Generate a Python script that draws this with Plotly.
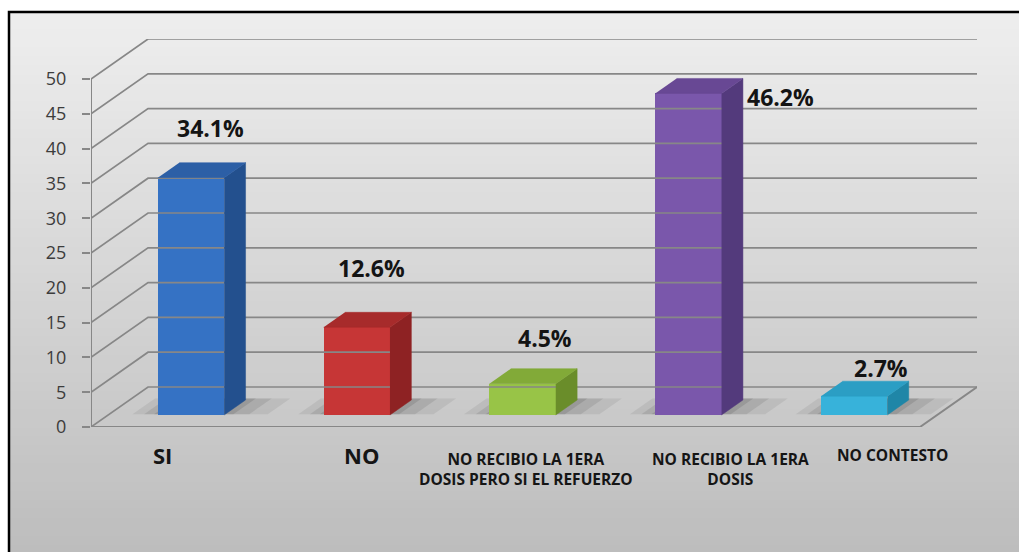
import plotly.graph_objects as go

# ---- data ----
categories = [
    "SI",
    "NO",
    "NO RECIBIO LA 1ERA<br>DOSIS PERO SI EL REFUERZO",
    "NO RECIBIO LA 1ERA<br>DOSIS",
    "NO CONTESTO",
]
values = [34.1, 12.6, 4.5, 46.2, 2.7]
value_labels = ["34.1%", "12.6%", "4.5%", "46.2%", "2.7%"]
y_ticks = [0, 5, 10, 15, 20, 25, 30, 35, 40, 45, 50]

# ---- styles ----
front_colors = ["#3572c4", "#c63636", "#98c447", "#7a57ab", "#37b2da"]
side_colors = ["#23508e", "#8e2223", "#6a8d2a", "#533a7c", "#1f86a7"]
top_colors = ["#2c5fa6", "#a72b2b", "#82aa38", "#684894", "#2b9ec4"]
label_sizes = [22, 22, 15.5, 15.5, 15.5]
label_xshift = [-11, 22, 21, 59, 55]
value_shift = [(19, 50), (15, 59), (22, 46), (92, -4), (27, 28)]
GRID = "#878787"

# ---- 3-D projection (oblique) ----
N = len(categories)
DX = 0.344      # horizontal depth shift, category units
DY = 5.75       # vertical depth shift, value units
D0, D1 = 0.30, 0.675   # bar front / back depth
BAR_W = 0.40
X_MAX = N + DX
Y_MAX = max(y_ticks) + DY

W, H = 1019, 552
ML, MR, MT, MB = 91, 42, 39, 125
PW, PH = W - ML - MR, H - MT - MB


def px_x(px):
    return (px - ML) / PW


def px_y(py):
    return (H - MB - py) / PH


def poly_path(xs, ys):
    pts = " L ".join(f"{x:.4f},{y:.4f}" for x, y in zip(xs, ys))
    return f"M {pts} Z"


fig = go.Figure()

# left wall diagonals + back wall horizontals
gx, gy = [], []
for t in y_ticks:
    gx += [0, DX, X_MAX, None]
    gy += [t, t + DY, t + DY, None]
fig.add_trace(go.Scatter(x=gx, y=gy, mode="lines",
                         line=dict(color=GRID, width=1.7),
                         hoverinfo="skip", showlegend=False))

# value axis line and floor edges
fig.add_trace(go.Scatter(
    x=[0, 0, None, 0, N, N + DX],
    y=[max(y_ticks), 0, None, 0, 0, DY],
    mode="lines", line=dict(color=GRID, width=2),
    hoverinfo="skip", showlegend=False))

centers = [i + 0.5 for i in range(N)]

# side and top faces
for c, v, sc, tc in zip(centers, values, side_colors, top_colors):
    xl, xr = c - BAR_W / 2, c + BAR_W / 2
    fig.add_trace(go.Scatter(
        x=[xr + D0 * DX, xr + D1 * DX, xr + D1 * DX, xr + D0 * DX],
        y=[D0 * DY, D1 * DY, v + D1 * DY, v + D0 * DY],
        fill="toself", mode="lines", fillcolor=sc,
        line=dict(color=sc, width=0.5),
        hoverinfo="skip", showlegend=False))
    fig.add_trace(go.Scatter(
        x=[xl + D0 * DX, xr + D0 * DX, xr + D1 * DX, xl + D1 * DX],
        y=[v + D0 * DY, v + D0 * DY, v + D1 * DY, v + D1 * DY],
        fill="toself", mode="lines", fillcolor=tc,
        line=dict(color=tc, width=0.5),
        hoverinfo="skip", showlegend=False))

# front faces
fig.add_trace(go.Bar(
    x=[c + D0 * DX for c in centers], y=values, base=D0 * DY,
    width=BAR_W, marker=dict(color=front_colors, line=dict(width=0)),
    hoverinfo="skip", showlegend=False))

annotations = []
for c, v, txt, (sx, sy) in zip(centers, values, value_labels, value_shift):
    annotations.append(dict(
        x=c + D0 * DX, y=v + D0 * DY, xref="x", yref="y",
        text=f"<b>{txt}</b>", showarrow=False,
        xshift=sx, yshift=sy, xanchor="center", yanchor="middle",
        font=dict(family="Open Sans", size=23, color="#141414")))

for c, lab, fs, xs in zip(centers, categories, label_sizes, label_xshift):
    two_lines = "<br>" in lab
    annotations.append(dict(
        x=c, y=px_y(469 if two_lines else 455), xref="x", yref="paper",
        text=f"<b>{lab}</b>", showarrow=False, xshift=xs,
        xanchor="center", yanchor="middle", align="center",
        font=dict(family="Open Sans", size=fs, color="#151515")))

# background gradient and frame
shapes = []
top_y, bot_y = 11, H + 2
n_bands = 60
c0, c1 = (238, 238, 238), (189, 189, 189)
for k in range(n_bands):
    f = k / (n_bands - 1)
    col = tuple(round(c0[j] + (c1[j] - c0[j]) * f) for j in range(3))
    y_a = top_y + (bot_y - top_y) * k / n_bands
    y_b = top_y + (bot_y - top_y) * (k + 1) / n_bands + 1
    shapes.append(dict(type="rect", xref="paper", yref="paper", layer="below",
                       x0=px_x(8), x1=px_x(W + 10), y0=px_y(y_b), y1=px_y(y_a),
                       line=dict(width=0), fillcolor="rgb(%d,%d,%d)" % col))
shapes.append(dict(type="rect", xref="paper", yref="paper", layer="below",
                   x0=px_x(9), x1=px_x(W + 10), y0=px_y(H + 10), y1=px_y(12),
                   line=dict(color="#000000", width=2.5),
                   fillcolor="rgba(0,0,0,0)"))

# soft floor shadows under each bar (kept beneath all traces)
for c in centers:
    xl, xr = c - BAR_W / 2, c + BAR_W / 2
    a0, a1 = D0 + 0.02, D1 + 0.04
    for grow, alpha in [(0.16, 0.10), (0.09, 0.14), (0.03, 0.18)]:
        sx = [xl - grow + a0 * DX, xr + grow * 1.6 + a0 * DX,
              xr + grow * 1.6 + a1 * DX, xl - grow + a1 * DX]
        sy = [a0 * DY, a0 * DY, a1 * DY, a1 * DY]
        shapes.append(dict(type="path", xref="x", yref="y", layer="below",
                           path=poly_path(sx, sy), line=dict(width=0),
                           fillcolor=f"rgba(70,70,70,{alpha})"))

fig.update_layout(
    width=W, height=H,
    margin=dict(l=ML, r=MR, t=MT, b=MB, pad=0),
    paper_bgcolor="#ffffff", plot_bgcolor="rgba(0,0,0,0)",
    shapes=shapes, annotations=annotations,
    xaxis=dict(range=[0, X_MAX], visible=False, fixedrange=True),
    yaxis=dict(range=[0, Y_MAX], tickvals=y_ticks, showgrid=False,
               zeroline=False, showline=False, ticks="outside", ticklen=8,
               tickwidth=1.6, tickcolor=GRID, ticklabelstandoff=12,
               tickfont=dict(family="Open Sans", size=18, color="#3c3c3c"),
               fixedrange=True),
    bargap=0,
)

fig.write_html("out.html")
